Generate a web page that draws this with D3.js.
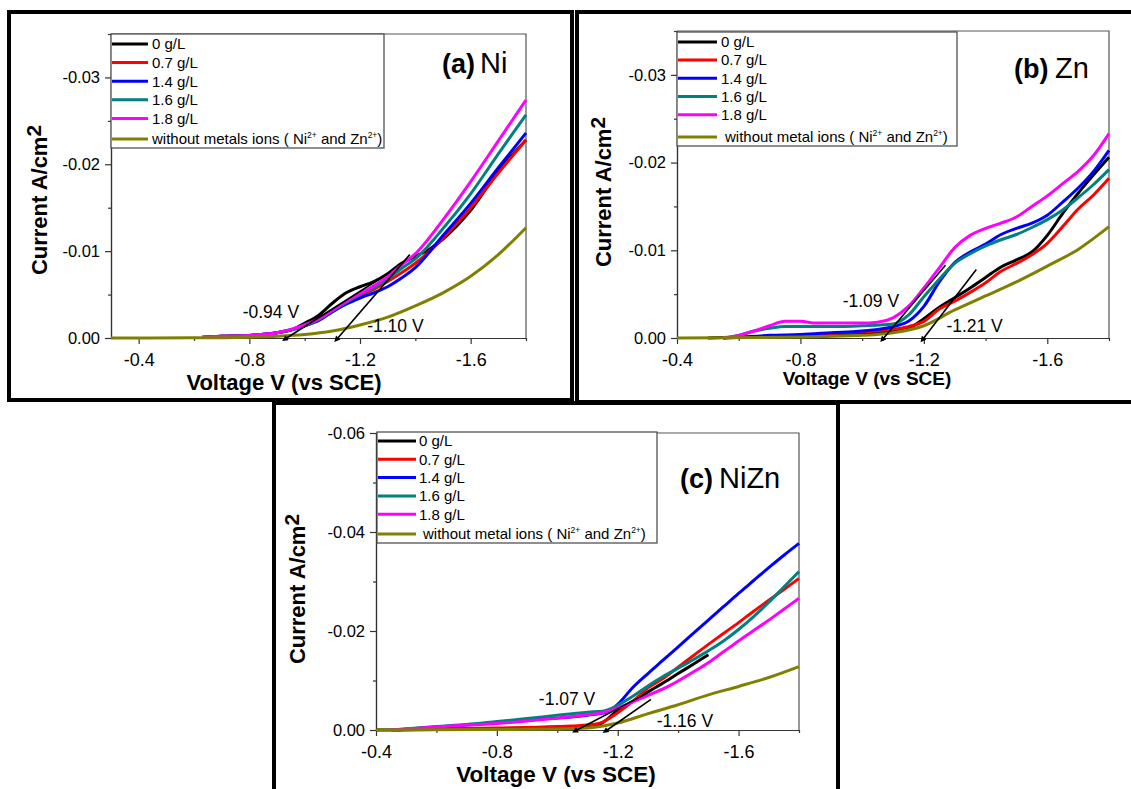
<!DOCTYPE html>
<html><head><meta charset="utf-8">
<script src="https://cdn.jsdelivr.net/npm/d3@7"></script>
<style>
body{margin:0;background:#fff;}
svg text{font-family:"Liberation Sans",Arial,Helvetica,sans-serif;}
</style></head><body>
<svg id="chart" width="1131" height="789"></svg>
<script>
// ===================== DATA =====================
const seriesLabels = ["0 g/L","0.7 g/L","1.4 g/L","1.6 g/L","1.8 g/L"];
const blankLabelA = ["without metals ions ( Ni","2+"," and Zn","2+",")"];
const blankLabelBC = ["without metal ions ( Ni","2+"," and Zn","2+",")"];
const titles = {a:["(a)","Ni"], b:["(b)","Zn"], c:["(c)","NiZn"]};
const xLabel = "Voltage V (vs SCE)";
const yLabel = ["Current A/cm","2"];

const xMajorTicks = [-0.4,-0.8,-1.2,-1.6];
const xMinorTicks = [-0.6,-1.0,-1.4,-1.8];
const yMajorTicksAB = [0,-0.01,-0.02,-0.03];
const yMinorTicksAB = [-0.005,-0.015,-0.025,-0.035];
const yMajorTicksC = [0,-0.02,-0.04,-0.06];
const yMinorTicksC = [-0.01,-0.03,-0.05];

// (a) Ni  — [voltage V, current A/cm2]
const ni_0   = [[-0.65,-0.0001],[-0.7,-0.0002],[-0.8,-0.0003],[-0.9,-0.0006],[-0.95,-0.0009],[-1.0,-0.0017],[-1.05,-0.0026],[-1.1,-0.004],[-1.15,-0.0052],[-1.2,-0.0059],[-1.25,-0.0065],[-1.3,-0.0074],[-1.35,-0.0086],[-1.4,-0.0094],[-1.45,-0.0102],[-1.5,-0.0114],[-1.6,-0.0147],[-1.7,-0.0192],[-1.8,-0.0228]];
const ni_07  = [[-0.63,-0.0001],[-0.7,-0.0002],[-0.8,-0.0003],[-0.9,-0.0006],[-1.0,-0.0014],[-1.05,-0.0021],[-1.1,-0.0031],[-1.15,-0.0041],[-1.2,-0.0049],[-1.25,-0.0056],[-1.3,-0.0065],[-1.35,-0.0075],[-1.4,-0.0086],[-1.5,-0.0115],[-1.6,-0.015],[-1.7,-0.019],[-1.8,-0.0228]];
const ni_14  = [[-0.63,-0.0001],[-0.7,-0.0002],[-0.8,-0.0003],[-0.9,-0.0006],[-1.0,-0.0014],[-1.05,-0.002],[-1.1,-0.003],[-1.15,-0.0039],[-1.2,-0.0046],[-1.25,-0.0052],[-1.3,-0.0059],[-1.35,-0.0069],[-1.4,-0.0081],[-1.5,-0.0118],[-1.6,-0.0155],[-1.7,-0.0196],[-1.8,-0.0236]];
const ni_16  = [[-0.63,-0.0001],[-0.7,-0.0002],[-0.8,-0.0003],[-0.9,-0.0006],[-1.0,-0.0014],[-1.05,-0.0021],[-1.1,-0.0031],[-1.15,-0.0041],[-1.2,-0.005],[-1.25,-0.0058],[-1.3,-0.0068],[-1.35,-0.008],[-1.4,-0.0091],[-1.5,-0.0126],[-1.6,-0.0166],[-1.7,-0.0212],[-1.8,-0.0257]];
const ni_18  = [[-0.63,-0.0001],[-0.7,-0.0002],[-0.8,-0.0003],[-0.9,-0.0006],[-1.0,-0.0015],[-1.05,-0.0022],[-1.1,-0.0032],[-1.15,-0.0042],[-1.2,-0.0051],[-1.25,-0.006],[-1.3,-0.0071],[-1.35,-0.0084],[-1.4,-0.0097],[-1.5,-0.0136],[-1.6,-0.018],[-1.7,-0.0227],[-1.8,-0.0274]];
const ni_blank = [[-0.3,0],[-0.6,-0.00002],[-0.8,-0.0001],[-0.9,-0.0002],[-1.0,-0.0004],[-1.1,-0.0008],[-1.2,-0.0015],[-1.3,-0.0024],[-1.4,-0.0037],[-1.5,-0.0052],[-1.6,-0.0071],[-1.7,-0.0096],[-1.8,-0.0127]];
const ni_tangents = [[[-0.935,0],[-1.31,-0.0076]],[[-1.12,0],[-1.38,-0.0096]]];
const ni_notes = [{t:"-0.94 V",v:-0.776,i:-0.0023},{t:"-1.10 V",v:-1.226,i:-0.0007}];

// (b) Zn
const zn_0   = [[-0.5,0],[-0.6,-0.0001],[-0.8,-0.0002],[-0.9,-0.0003],[-1.0,-0.0005],[-1.1,-0.0008],[-1.15,-0.0011],[-1.2,-0.0022],[-1.25,-0.0035],[-1.3,-0.0046],[-1.35,-0.0057],[-1.4,-0.0069],[-1.45,-0.0081],[-1.5,-0.0089],[-1.55,-0.0098],[-1.6,-0.0117],[-1.65,-0.0142],[-1.7,-0.0165],[-1.75,-0.0186],[-1.8,-0.0206]];
const zn_07  = [[-0.55,0],[-0.7,-0.0002],[-0.8,-0.0003],[-0.9,-0.0005],[-1.0,-0.0007],[-1.1,-0.001],[-1.15,-0.0013],[-1.2,-0.0019],[-1.25,-0.0033],[-1.3,-0.0042],[-1.35,-0.0052],[-1.4,-0.0063],[-1.45,-0.0076],[-1.5,-0.0085],[-1.55,-0.0095],[-1.6,-0.0108],[-1.65,-0.0127],[-1.7,-0.0147],[-1.75,-0.0163],[-1.8,-0.0182]];
const zn_14  = [[-0.55,0],[-0.6,-0.0001],[-0.7,-0.0003],[-0.8,-0.0004],[-0.9,-0.0006],[-1.0,-0.0008],[-1.1,-0.0013],[-1.15,-0.0019],[-1.2,-0.0036],[-1.25,-0.0064],[-1.3,-0.0086],[-1.35,-0.0098],[-1.4,-0.0107],[-1.45,-0.0118],[-1.5,-0.0125],[-1.55,-0.0131],[-1.6,-0.014],[-1.65,-0.0155],[-1.7,-0.0171],[-1.75,-0.019],[-1.8,-0.0214]];
const zn_16  = [[-0.55,0],[-0.6,-0.0003],[-0.65,-0.0008],[-0.7,-0.0011],[-0.75,-0.0013],[-0.8,-0.0013],[-0.9,-0.0013],[-1.0,-0.0014],[-1.1,-0.0016],[-1.15,-0.0026],[-1.2,-0.0047],[-1.25,-0.0067],[-1.3,-0.0085],[-1.35,-0.0096],[-1.4,-0.0105],[-1.45,-0.0112],[-1.5,-0.0118],[-1.55,-0.0126],[-1.6,-0.0135],[-1.65,-0.0146],[-1.7,-0.016],[-1.75,-0.0175],[-1.8,-0.0192]];
const zn_18  = [[-0.55,0],[-0.6,-0.0003],[-0.65,-0.0008],[-0.7,-0.0014],[-0.75,-0.0019],[-0.8,-0.0019],[-0.85,-0.0017],[-0.9,-0.0017],[-1.0,-0.0017],[-1.05,-0.0018],[-1.1,-0.0023],[-1.15,-0.0036],[-1.2,-0.0057],[-1.25,-0.008],[-1.3,-0.0103],[-1.35,-0.0117],[-1.4,-0.0125],[-1.45,-0.0131],[-1.5,-0.0138],[-1.55,-0.015],[-1.6,-0.0162],[-1.65,-0.0176],[-1.7,-0.019],[-1.75,-0.0208],[-1.8,-0.0233]];
const zn_blank = [[-0.4,0],[-0.8,-0.0001],[-0.9,-0.0002],[-1.0,-0.0003],[-1.1,-0.0006],[-1.2,-0.0014],[-1.3,-0.0032],[-1.4,-0.0048],[-1.5,-0.0064],[-1.6,-0.0082],[-1.7,-0.0101],[-1.8,-0.0127]];
const zn_tangents = [[[-1.07,0],[-1.27,-0.0083]],[[-1.2,0],[-1.37,-0.0078]]];
const zn_notes = [{t:"-1.09 V",v:-0.937,i:-0.00353},{t:"-1.21 V",v:-1.273,i:-0.00068}];

// (c) NiZn
const nz_0   = [[-0.4,0],[-0.8,-0.0002],[-1.0,-0.0003],[-1.1,-0.0006],[-1.15,-0.0015],[-1.2,-0.004],[-1.25,-0.0058],[-1.3,-0.0077],[-1.35,-0.0095],[-1.4,-0.0114],[-1.45,-0.0133],[-1.5,-0.0152]];
const nz_07  = [[-0.45,0],[-0.6,-0.0002],[-0.8,-0.0004],[-1.0,-0.0007],[-1.1,-0.001],[-1.15,-0.0016],[-1.2,-0.0035],[-1.25,-0.0058],[-1.3,-0.0085],[-1.35,-0.0104],[-1.4,-0.0127],[-1.45,-0.015],[-1.5,-0.0173],[-1.55,-0.0195],[-1.6,-0.0217],[-1.65,-0.024],[-1.7,-0.0262],[-1.75,-0.0284],[-1.8,-0.0306]];
const nz_14  = [[-0.47,0],[-0.6,-0.0006],[-0.7,-0.001],[-0.8,-0.0015],[-0.9,-0.002],[-1.0,-0.0024],[-1.1,-0.003],[-1.16,-0.0035],[-1.2,-0.0052],[-1.25,-0.0086],[-1.3,-0.0114],[-1.35,-0.0141],[-1.4,-0.0168],[-1.45,-0.0195],[-1.5,-0.0222],[-1.55,-0.0249],[-1.6,-0.0276],[-1.65,-0.0302],[-1.7,-0.0328],[-1.75,-0.0353],[-1.8,-0.0377]];
const nz_16  = [[-0.45,0],[-0.6,-0.0007],[-0.7,-0.0011],[-0.8,-0.0017],[-0.9,-0.0023],[-1.0,-0.003],[-1.1,-0.0036],[-1.15,-0.0038],[-1.2,-0.005],[-1.25,-0.0068],[-1.3,-0.0089],[-1.35,-0.0108],[-1.4,-0.0125],[-1.45,-0.0142],[-1.5,-0.016],[-1.55,-0.018],[-1.6,-0.0203],[-1.65,-0.0229],[-1.7,-0.0258],[-1.75,-0.0289],[-1.8,-0.032]];
const nz_18  = [[-0.45,0],[-0.6,-0.0006],[-0.7,-0.001],[-0.8,-0.0013],[-0.9,-0.0018],[-1.0,-0.0024],[-1.1,-0.0031],[-1.15,-0.0035],[-1.2,-0.0045],[-1.25,-0.0057],[-1.3,-0.007],[-1.35,-0.0083],[-1.4,-0.0099],[-1.45,-0.0117],[-1.5,-0.0136],[-1.55,-0.0158],[-1.6,-0.018],[-1.65,-0.0201],[-1.7,-0.0222],[-1.75,-0.0244],[-1.8,-0.0266]];
const nz_blank = [[-0.4,0],[-0.8,-0.0001],[-1.0,-0.0002],[-1.1,-0.0004],[-1.2,-0.0014],[-1.3,-0.0033],[-1.4,-0.0051],[-1.5,-0.0071],[-1.6,-0.0088],[-1.7,-0.0106],[-1.8,-0.0128]];
const nz_tangents = [[[-1.065,0],[-1.30,-0.0075]],[[-1.165,0],[-1.31,-0.0062]]];
const nz_notes = [{t:"-1.07 V",v:-0.939,i:-0.00505},{t:"-1.16 V",v:-1.329,i:-0.00061}];

// ===================== STYLE / LAYOUT =====================
const colors = ["#000000","#ff0000","#0000ff","#008080","#ff00ff","#808000"];
const FONT = '"Liberation Sans", Arial, Helvetica, sans-serif';
const svg = d3.select("#chart");

// panel borders
svg.append("rect").attr("x",9).attr("y",12).attr("width",563).attr("height",388)
  .attr("fill","none").attr("stroke","#000").attr("stroke-width",4);
svg.append("rect").attr("x",577).attr("y",12).attr("width",570).attr("height",390)
  .attr("fill","none").attr("stroke","#000").attr("stroke-width",4);
svg.append("rect").attr("x",274).attr("y",403).attr("width",564).attr("height",420)
  .attr("fill","#fff").attr("stroke","#000").attr("stroke-width",4);

const defs = svg.append("defs");
defs.append("marker").attr("id","arr").attr("viewBox","0 0 10 10").attr("refX",1).attr("refY",5)
  .attr("markerWidth",7).attr("markerHeight",6).attr("markerUnits","userSpaceOnUse")
  .attr("orient","auto-start-reverse")
  .append("path").attr("d","M0,0L10,5L0,10z").attr("fill","#000");

const panels = [
 {key:"a", l:111, r:526, t:34, b:338, xDom:[-0.3,-1.8], yDom:[0,-0.035],
  yMaj:yMajorTicksAB, yMin:yMinorTicksAB,
  series:[ni_0,ni_07,ni_14,ni_16,ni_18,ni_blank], tangents:ni_tangents, notes:ni_notes, blank:blankLabelA,
  leg:{x0:111,x1:384,y0:34,y1:148,lx1:148,tx:152,btx:152,rows:[44,62.6,81.2,99.8,118.4,139]},
  title:{x1:442,x2:480,y:73}, xl:{x:284,y:390,fs:22}, yl:{x:47,y:200,fs:22}, xtFs:18, ytFs:16.5},
 {key:"b", l:677, r:1109, t:31, b:338, xDom:[-0.4,-1.8], yDom:[0,-0.035],
  yMaj:yMajorTicksAB, yMin:yMinorTicksAB,
  series:[zn_0,zn_07,zn_14,zn_16,zn_18,zn_blank], tangents:zn_tangents, notes:zn_notes, blank:blankLabelBC,
  leg:{x0:677,x1:957,y0:32,y1:146,lx1:717,tx:721,btx:725,rows:[42,60,78.2,96.5,114.8,137]},
  title:{x1:1014,x2:1055,y:78}, xl:{x:867,y:385,fs:19}, yl:{x:611,y:192,fs:22}, xtFs:18, ytFs:16.5},
 {key:"c", l:376, r:799, t:433, b:730, xDom:[-0.4,-1.8], yDom:[0,-0.06],
  yMaj:yMajorTicksC, yMin:yMinorTicksC,
  series:[nz_0,nz_07,nz_14,nz_16,nz_18,nz_blank], tangents:nz_tangents, notes:nz_notes, blank:blankLabelBC,
  leg:{x0:377,x1:657,y0:432,y1:543,lx1:416,tx:419,btx:423,rows:[441,459.3,477.6,495.9,514.2,534]},
  title:{x1:680,x2:719,y:488}, xl:{x:556,y:782,fs:22.5}, yl:{x:305,y:589,fs:22}, xtFs:18, ytFs:16.5}
];

function styleAxis(s, fs){
  s.attr("font-family",FONT).attr("font-size",fs);
  s.selectAll("text").attr("fill","#000");
  s.selectAll("line,path").attr("stroke","#333").attr("stroke-width",1.2);
}

panels.forEach(P => {
  const g = svg.append("g");
  const x = d3.scaleLinear().domain(P.xDom).range([P.l, P.r]);
  const y = d3.scaleLinear().domain(P.yDom).range([P.b, P.t]);

  // frame (top/right)
  g.append("path").attr("d",`M${P.l},${P.t}H${P.r}V${P.b}`).attr("fill","none")
    .attr("stroke","#555").attr("stroke-width",1.2);

  // minor ticks
  g.append("g").attr("transform",`translate(0,${P.b})`)
    .call(d3.axisBottom(x).tickValues(xMinorTicks).tickSize(3).tickSizeOuter(0).tickFormat(""))
    .call(s=>styleAxis(s,10));
  g.append("g").attr("transform",`translate(${P.l},0)`)
    .call(d3.axisLeft(y).tickValues(P.yMin).tickSize(3).tickSizeOuter(0).tickFormat(""))
    .call(s=>styleAxis(s,10));
  // major axes
  g.append("g").attr("transform",`translate(0,${P.b})`)
    .call(d3.axisBottom(x).tickValues(xMajorTicks).tickSize(6).tickPadding(9).tickSizeOuter(0)
      .tickFormat(d=>d.toFixed(1)))
    .call(s=>styleAxis(s,P.xtFs));
  g.append("g").attr("transform",`translate(${P.l},0)`)
    .call(d3.axisLeft(y).tickValues(P.yMaj).tickSize(6).tickPadding(5).tickSizeOuter(0)
      .tickFormat(d=>d===0?"0.00":d.toFixed(2)))
    .call(s=>styleAxis(s,P.ytFs));

  // data lines
  const line = d3.line().x(d=>x(d[0])).y(d=>y(d[1])).curve(d3.curveMonotoneX);
  P.series.forEach((s,i)=>{
    g.append("path").datum(s).attr("d",line).attr("fill","none")
      .attr("stroke",colors[i]).attr("stroke-width",3).attr("stroke-linejoin","round");
  });

  // tangent lines with arrowheads
  P.tangents.forEach(tg=>{
    g.append("line").attr("x1",x(tg[0][0])).attr("y1",y(tg[0][1]))
      .attr("x2",x(tg[1][0])).attr("y2",y(tg[1][1]))
      .attr("stroke","#000").attr("stroke-width",1.6).attr("marker-start","url(#arr)");
  });

  // annotations
  P.notes.forEach(n=>{
    g.append("text").attr("x",x(n.v)).attr("y",y(n.i)).attr("font-size",17.5)
      .attr("font-family",FONT).text(n.t);
  });

  // legend
  const L = P.leg;
  g.append("rect").attr("x",L.x0).attr("y",L.y0).attr("width",L.x1-L.x0).attr("height",L.y1-L.y0)
    .attr("fill","#fff").attr("stroke","#444").attr("stroke-width",1.2);
  L.rows.forEach((ry,i)=>{
    g.append("line").attr("x1",L.x0+1).attr("x2",L.lx1).attr("y1",ry).attr("y2",ry)
      .attr("stroke",colors[i]).attr("stroke-width",3);
    if(i<5){
      g.append("text").attr("x",L.tx).attr("y",ry+5.3).attr("font-size",15)
        .attr("font-family",FONT).text(seriesLabels[i]);
    } else {
      const t = g.append("text").attr("x",L.btx).attr("y",ry+5.3).attr("font-size",15).attr("font-family",FONT);
      P.blank.forEach((part,j)=>{
        const ts = t.append("tspan").text(part);
        if(j===1||j===3){ ts.attr("font-size",8.5).attr("dy",-6); }
        else if(j>0){ ts.attr("dy",6); }
      });
    }
  });

  // title
  const tt = titles[P.key];
  const tx = g.append("text").attr("y",P.title.y).attr("font-family",FONT);
  tx.append("tspan").attr("x",P.title.x1).attr("font-weight","bold").attr("font-size",27).text(tt[0]);
  tx.append("tspan").attr("x",P.title.x2).attr("font-size",29).text(tt[1]);

  // axis titles
  g.append("text").attr("x",P.xl.x).attr("y",P.xl.y).attr("text-anchor","middle")
    .attr("font-weight","bold").attr("font-size",P.xl.fs).attr("font-family",FONT).text(xLabel);
  const yt = g.append("text").attr("transform",`translate(${P.yl.x},${P.yl.y}) rotate(-90)`)
    .attr("text-anchor","middle").attr("font-weight","bold").attr("font-size",P.yl.fs).attr("font-family",FONT);
  yt.append("tspan").text(yLabel[0]);
  yt.append("tspan").attr("dy",-6).attr("font-size",21).text(yLabel[1]);
});
</script>
</body></html>
